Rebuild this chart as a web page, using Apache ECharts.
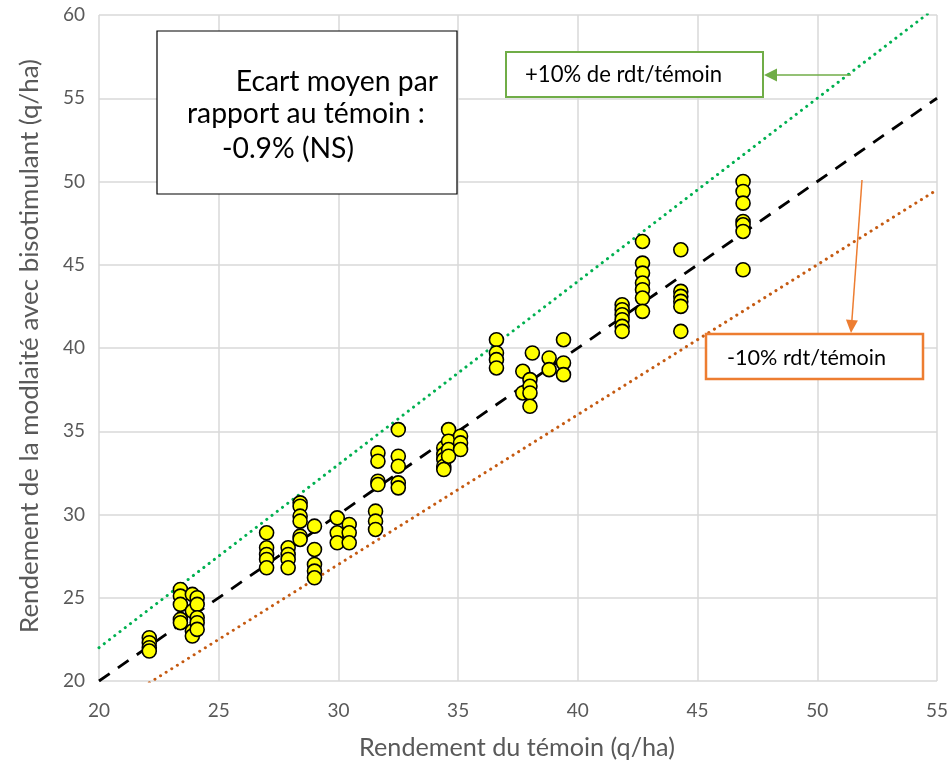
<!DOCTYPE html>
<html><head><meta charset="utf-8">
<script src="https://cdn.jsdelivr.net/npm/echarts@6/dist/echarts.min.js"></script>
<style>html,body{margin:0;padding:0;background:#fff}#c{width:952px;height:765px}</style>
</head><body><div id="c"></div>
<script>
// Rendement du témoin (x) and rendement avec biostimulant (y), paired
const temoin = [
  22.1,22.1,22.1,22.1,
  23.4,23.4,23.4,23.4,23.4,
  23.9,23.9,23.9,23.9, 24.1,24.1,24.1,24.1,24.1,
  27.0,27.0,27.0,27.0,27.0,
  27.9,27.9,27.9,27.9,
  28.4,28.4,28.4,28.4,28.4,28.4,
  29.0,29.0,29.0,29.0,29.0,
  29.95,29.95,29.95,
  30.45,30.45,30.45,
  31.55,31.55,31.55,
  31.65,31.65,31.65,31.65,
  32.5,32.5,32.5,32.5,32.5,
  34.4,34.4,34.4,34.4,34.4,
  34.6,34.6,34.6,34.6,
  35.1,35.1,35.1,
  36.6,36.6,36.6,36.6,
  37.7,37.7,
  38.0,38.0,38.0,38.0,
  38.1,
  38.8,38.8,
  39.4,39.4,39.4,
  41.85,41.85,41.85,41.85,41.85,41.85,
  42.7,42.7,42.7,42.7,42.7,42.7,42.7,
  44.3,44.3,44.3,44.3,44.3,44.3,
  46.9,46.9,46.9,46.9,46.9,46.9,46.9
];
const biostim = [
  22.6,22.3,22.0,21.8,
  25.5,25.1,24.6,23.7,23.5,
  25.2,24.2,23.0,22.7, 25.0,24.6,23.8,23.5,23.1,
  28.9,28.0,27.6,27.3,26.8,
  28.0,27.6,27.3,26.8,
  30.7,30.5,29.9,29.6,28.7,28.5,
  29.3,27.9,27.0,26.6,26.2,
  29.8,28.9,28.3,
  29.4,28.9,28.3,
  30.2,29.6,29.1,
  33.7,33.2,32.0,31.8,
  35.1,33.5,32.9,31.9,31.6,
  34.0,33.6,33.3,32.9,32.7,
  35.1,34.4,33.9,33.5,
  34.7,34.3,33.9,
  40.5,39.7,39.3,38.8,
  38.6,37.3,
  38.1,37.7,37.3,36.5,
  39.7,
  39.4,38.7,
  40.5,39.1,38.4,
  42.6,42.3,42.0,41.7,41.3,41.0,
  46.4,45.1,44.5,43.9,43.5,43.0,42.2,
  45.9,43.4,43.1,42.8,42.5,41.0,
  50.0,49.4,48.7,47.6,47.4,47.0,44.7
];
// reference lines: ratio of témoin
const refRatios = [1.0, 1.1, 0.9];
const xTicks = [20, 55];
const xTitle = 'Rendement du témoin (q/ha)';
const yTitle = 'Rendement de la modlaité avec bisotimulant (q/ha)';
const noteLines = ['Ecart moyen par', 'rapport au témoin :', '-0.9% (NS)'];
const plusLabel = '+10% de rdt/témoin';
const minusLabel = '-10% rdt/témoin';

const points = temoin.map((x, i) => [x, biostim[i]]);
const refLine = r => xTicks.map(x => [x, +(x * r).toFixed(3)]);

const fam = 'Lato, "Open Sans", "Liberation Sans", sans-serif';
const mctx = document.createElement('canvas').getContext('2d');
// font size giving the text a target width
function fit(text, width) {
  mctx.font = '100px ' + fam;
  return Math.round(100 * width / mctx.measureText(text).width * 10) / 10;
}

const chart = echarts.init(document.getElementById('c'), null, {renderer: 'canvas'});

function arrow(x1, y1, x2, y2, color, headLen, headW) {
  const a = Math.atan2(y2 - y1, x2 - x1);
  const bx = x2 - headLen * Math.cos(a), by = y2 - headLen * Math.sin(a);
  const px = -Math.sin(a) * headW / 2, py = Math.cos(a) * headW / 2;
  return [
    {type: 'line', shape: {x1, y1, x2: bx, y2: by}, style: {stroke: color, lineWidth: 1.5}, z: 100},
    {type: 'polygon', shape: {points: [[x2, y2], [bx + px, by + py], [bx - px, by - py]]}, style: {fill: color}, z: 100}
  ];
}
function txt(text, x, y, size, align, color, rotation) {
  return {type: 'text', x, y, rotation: rotation || 0, z: 91,
    style: {text, font: size + 'px ' + fam, fill: color || '#000', align: align || 'left', verticalAlign: 'middle'}};
}

const noteSize = Math.min(fit(noteLines[0], 203), fit(noteLines[1], 238));

chart.setOption({
  animation: false,
  backgroundColor: '#fff',
  grid: {left: 99, right: 15, top: 15, bottom: 84, containLabel: false},
  xAxis: {
    type: 'value', min: 20, max: 55, interval: 5,
    axisLine: {show: false}, axisTick: {show: false},
    axisLabel: {color: '#595959', fontSize: 19, fontFamily: fam, margin: 20},
    splitLine: {show: true, lineStyle: {color: '#d9d9d9', width: 1.5}}
  },
  yAxis: {
    type: 'value', min: 20, max: 60, interval: 5,
    axisLine: {show: false}, axisTick: {show: false},
    axisLabel: {color: '#595959', fontSize: 19, fontFamily: fam, margin: 14},
    splitLine: {show: true, lineStyle: {color: '#d9d9d9', width: 1.5}}
  },
  series: [
    {type: 'line', data: refLine(refRatios[1]), symbol: 'none', clip: true, z: 2,
     lineStyle: {color: '#00b050', width: 3, type: [0.1, 6.5], cap: 'round'}},
    {type: 'line', data: refLine(refRatios[2]), symbol: 'none', clip: true, z: 2,
     lineStyle: {color: '#c55a11', width: 3, type: [0.1, 6.5], cap: 'round'}},
    {type: 'line', data: refLine(refRatios[0]), symbol: 'none', clip: true, z: 2,
     lineStyle: {color: '#000', width: 2.8, type: [13, 10]}},
    {type: 'scatter', data: points, symbol: 'circle', symbolSize: 14, z: 5,
     itemStyle: {color: '#ffff00', borderColor: '#000', borderWidth: 1.6, opacity: 1}}
  ],
  graphic: [
    txt(xTitle, 517, 748, fit(xTitle, 316), 'center', '#595959'),
    txt(yTitle, 30, 346, fit(yTitle, 575), 'center', '#595959', Math.PI / 2),

    {type: 'rect', shape: {x: 157, y: 31, width: 300, height: 163}, style: {fill: '#fff', stroke: '#000', lineWidth: 1.2}, z: 90},
    txt(noteLines[0], 438, 82, noteSize, 'right'),
    txt(noteLines[1], 187, 114, noteSize, 'left'),
    txt(noteLines[2], 222, 149, noteSize, 'left'),

    {type: 'rect', shape: {x: 506, y: 52, width: 257, height: 45}, style: {fill: '#fff', stroke: '#70ad47', lineWidth: 2}, z: 90},
    txt(plusLabel, 525, 75, fit(plusLabel, 197), 'left'),
    ...arrow(851, 75, 764, 75, '#70ad47', 13, 13),

    {type: 'rect', shape: {x: 706, y: 334, width: 217, height: 45}, style: {fill: '#fff', stroke: '#ed7d31', lineWidth: 2.5}, z: 90},
    txt(minusLabel, 727, 358, fit(minusLabel, 159), 'left'),
    ...arrow(862, 180, 851, 333, '#ed7d31', 13, 12)
  ]
});
</script></body></html>
